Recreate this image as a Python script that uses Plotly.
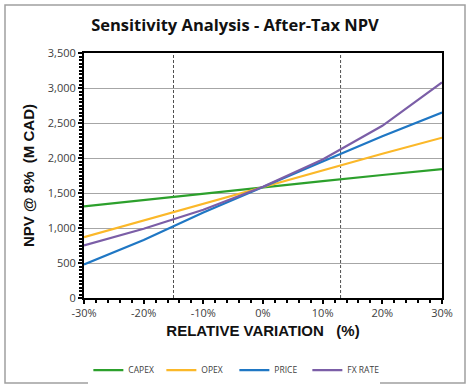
import plotly.graph_objects as go

variation = [-30, -20, -10, 0, 10, 20, 30]
capex = [1310, 1400, 1495, 1590, 1670, 1757, 1840]
opex = [870, 1110, 1345, 1590, 1820, 2060, 2290]
price = [480, 830, 1220, 1590, 1950, 2310, 2650]
fx_rate = [750, 990, 1260, 1590, 1980, 2460, 3080]

series_names = ["CAPEX", "OPEX", "PRICE", "FX RATE"]
series_values = [capex, opex, price, fx_rate]
series_colors = ["#2ca02c", "#fbb829", "#1f77c4", "#7b5ea7"]

x_ticks = [-30, -20, -10, 0, 10, 20, 30]
x_tick_labels = ["-30%", "-20%", "-10%", "0%", "10%", "20%", "30%"]
y_ticks = [0, 500, 1000, 1500, 2000, 2500, 3000, 3500]
ref_lines = [-15, 13]

fig = go.Figure()
for name, vals, col in zip(series_names, series_values, series_colors):
    fig.add_trace(go.Scatter(x=variation, y=vals, mode="lines", name=name,
                             line=dict(color=col, width=2.2)))

for xv in ref_lines:
    fig.add_shape(type="line", x0=xv, x1=xv, y0=0, y1=3500, xref="x", yref="y",
                  line=dict(color="#222222", width=0.8, dash="3px,2px"), layer="below")

# outer chart border
L, R, T, B = 84, 28, 53, 90
W, H = 470, 388
pw, ph = W - L - R, H - T - B
fig.add_shape(type="rect", xref="paper", yref="paper",
              x0=(5 - L) / pw, x1=(465 - L) / pw,
              y0=(ph + T - 383) / ph, y1=(ph + T - 5) / ph,
              line=dict(color="#a0a0a0", width=1.5))

fig.update_layout(
    width=W, height=H,
    margin=dict(l=L, r=R, t=T, b=B, autoexpand=False),
    paper_bgcolor="white", plot_bgcolor="white",
    title=dict(text="<b>Sensitivity Analysis - After-Tax NPV</b>", x=0.5, xanchor="center",
               y=1 - 25 / H, yanchor="middle",
               font=dict(family="Open Sans", size=16.5, color="#111111")),
    xaxis=dict(range=[-30, 30], tickvals=x_ticks, ticktext=x_tick_labels,
               showgrid=False, zeroline=False, automargin=False,
               showline=True, linecolor="black", linewidth=2, mirror=True,
               ticks="outside", ticklen=4, tickcolor="black", tickwidth=1.5,
               minor=dict(dtick=2, ticks="outside", ticklen=3, tickcolor="black"),
               tickfont=dict(family="Open Sans", size=11, color="#404040"),
               title=dict(text="<b>RELATIVE VARIATION   (%)</b>", standoff=6,
                          font=dict(family="Liberation Sans", size=15, color="#111111"))),
    yaxis=dict(range=[0, 3500], tickvals=y_ticks, tickformat=",",
               showgrid=True, gridcolor="#a6a6a6", gridwidth=1, zeroline=False, automargin=False,
               showline=True, linecolor="black", linewidth=2, mirror=True,
               ticks="outside", ticklen=4, tickcolor="black", tickwidth=1.5,
               minor=dict(dtick=50, ticks="outside", ticklen=3, tickcolor="black", showgrid=False),
               tickfont=dict(family="Open Sans", size=11, color="#404040"),
               title=dict(text="<b>NPV @ 8%  (M CAD)</b>", standoff=10,
                          font=dict(family="Liberation Sans", size=15, color="#111111"))),
    legend=dict(orientation="h", x=0.42, xanchor="center", y=-0.235, yanchor="top",
                font=dict(family="Open Sans", size=8.5, color="#404040"),
                entrywidth=28, entrywidthmode="pixels", itemwidth=30, tracegroupgap=0),
    showlegend=True,
)

fig.write_html("out.html", config={"displayModeBar": False},
               post_script="document.body.style.margin='0px';document.body.style.overflow='hidden';")
